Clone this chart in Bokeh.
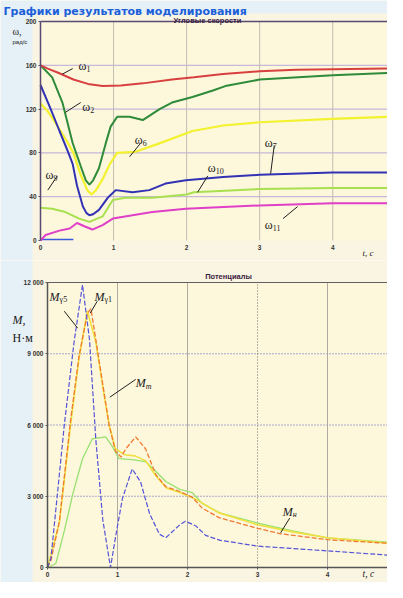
from bokeh.plotting import figure
from bokeh.models import Label, Range1d, FixedTicker
from bokeh.layouts import column
from bokeh.embed import file_html
from bokeh.resources import INLINE

# ---------------- data: angular velocities (t, s ; omega, rad/s) ----------------
t_w1 = [0, 0.1, 0.25, 0.45, 0.65, 0.85, 1.1, 1.4, 1.8, 2.1, 2.5, 3.0, 3.5, 4.0, 4.8]
w1 = [160, 157, 153, 147, 143, 141, 141.5, 143.5, 147, 149, 152, 154.5, 156, 156.5, 157]

t_w2 = [0, 0.16, 0.3, 0.44, 0.55, 0.62, 0.67, 0.72, 0.8, 0.89, 0.96, 1.05, 1.22, 1.4, 1.63, 1.8,
        2.08, 2.36, 2.53, 3.0, 4.0, 4.8]
w2 = [160, 149, 126, 89, 68, 55, 51, 55, 66, 88, 104, 113, 113, 110, 120, 126,
      131, 137, 141, 147, 151, 153]

t_w6 = [0, 0.1, 0.2, 0.35, 0.45, 0.55, 0.64, 0.7, 0.76, 0.85, 0.95, 1.05, 1.3, 1.6, 2.08, 2.5,
        3.0, 4.0, 4.8]
w6 = [125, 118, 108, 92, 80, 60, 46, 42, 46, 56, 70, 80, 81, 88, 100, 105,
      108, 111, 113]

t_w10 = [0, 0.14, 0.26, 0.37, 0.44, 0.5, 0.58, 0.63, 0.67, 0.72, 0.8, 0.92, 1.03, 1.26, 1.49,
         1.71, 1.99, 2.5, 3.0, 4.0, 4.8]
w10 = [142, 120, 100, 82, 70, 50, 31, 25, 23, 24, 28, 39, 46, 44, 46,
       52, 55, 58, 60, 62, 62]

t_w9 = [0, 0.16, 0.34, 0.53, 0.67, 0.85, 0.99, 1.16, 1.53, 2.0, 2.1, 3.0, 4.0, 4.8]
w9 = [30, 29, 26, 20, 17, 22, 37, 39, 39, 42, 44, 47, 48, 48]

t_w11 = [0, 0.07, 0.26, 0.4, 0.5, 0.6, 0.71, 0.85, 0.99, 1.26, 1.53, 1.99, 3.0, 4.0, 4.8]
w11 = [0, 5, 9, 11, 16, 13, 10, 14, 20, 23, 26, 29, 32, 34, 34]

t_w0 = [0, 0.45]
w0 = [1, 1]

w_ticks = [0, 40, 80, 120, 160, 200]
t_ticks = [0, 1, 2, 3, 4]

# ---------------- data: moments (t, s ; M, N*m) ----------------
t_my5 = [0, 0.05, 0.24, 0.38, 0.5, 0.6, 0.69, 0.79, 0.9, 0.97, 1.07, 1.21, 1.33, 1.46, 1.6, 1.69,
         1.89, 1.97, 2.12, 2.26, 2.46, 3.0, 3.5, 4.0, 4.97]
my5 = [0, 400, 6000, 9500, 11900, 9600, 5400, 2000, 0, 1250, 2900, 4150, 3600, 2250, 1400, 1250,
       1800, 1950, 1750, 1350, 1150, 900, 800, 700, 500]

t_mt = [0, 0.05, 0.17, 0.33, 0.45, 0.57, 0.62, 0.69, 0.79, 0.88, 0.97, 1.05, 1.12, 1.26, 1.4,
        1.55, 1.69, 1.89, 2.07, 2.21, 2.45, 3.0, 3.33, 4.0, 4.97]
mt = [0, 300, 1950, 6200, 8900, 10700, 10900, 9600, 7700, 6000, 4900, 4650, 5000, 5500, 5000,
      3900, 3400, 3200, 2950, 2500, 2100, 1650, 1420, 1170, 1000]

t_my = [0, 0.17, 0.33, 0.45, 0.57, 0.69, 0.79, 0.88, 0.97, 1.1, 1.25, 1.4, 1.55, 1.7, 1.9, 2.1,
        2.45, 3.0, 3.5, 4.0, 4.97]
my = [0, 1900, 6000, 8800, 10800, 9500, 7600, 6000, 5000, 4750, 4700, 4500, 3850, 3350, 3150, 2900,
      2300, 1800, 1500, 1250, 1000]

t_mn = [0, 0.12, 0.24, 0.36, 0.5, 0.64, 0.83, 0.93, 1.02, 1.21, 1.4, 1.55, 1.69, 1.89, 2.07, 2.21,
        2.46, 3.0, 3.5, 4.0, 4.97]
mn = [0, 170, 1540, 3080, 4580, 5420, 5500, 5080, 4580, 4540, 4460, 4040, 3620, 3290, 3150, 2700,
      2300, 1870, 1540, 1250, 1040]

m_ticks = [0, 3000, 6000, 9000, 12000]
m_tick_labels = {0: "0", 3000: "3 000", 6000: "6 000", 9000: "9 000", 12000: "12 000"}

# ---------------- styling / layout constants ----------------
SERIF = "Liberation Serif"
SANS = "Liberation Sans"
PLOT_BG = "#fdf7dc"
PAGE_BG = "#faf5e2"
SIDE_BG = "#e6f1f7"
W = 387


class Frame:
    """Maps canvas pixels (from top-left) to data units for a figure whose frame fills the canvas."""

    def __init__(self, height, left_px, top_px, bottom_px, t_end, v_top):
        self.xs = (W - left_px) / t_end
        self.ys = (bottom_px - top_px) / v_top
        self.x0 = -left_px / self.xs
        self.x1 = t_end
        self.y1 = v_top + top_px / self.ys
        self.y0 = -(height - bottom_px) / self.ys
        self.t_end = t_end
        self.v_top = v_top

    def cx(self, px):
        return self.x0 + px / self.xs

    def cy(self, py):
        return self.y1 - py / self.ys


def make_fig(fr, height):
    p = figure(width=W, height=height, x_range=Range1d(fr.x0, fr.x1), y_range=Range1d(fr.y0, fr.y1),
               output_backend="svg", toolbar_location=None,
               min_border_left=0, min_border_right=0, min_border_top=0, min_border_bottom=0)
    p.background_fill_color = PAGE_BG
    p.border_fill_color = PAGE_BG
    p.outline_line_color = None
    p.grid.visible = False
    p.quad(left=[fr.x0], right=[fr.cx(32)], bottom=[fr.y0], top=[fr.y1],
           fill_color=SIDE_BG, line_color=None, level="underlay")
    p.quad(left=[0], right=[fr.t_end], bottom=[0], top=[fr.v_top],
           fill_color=PLOT_BG, line_color=None, level="underlay")
    for ax in (p.xaxis, p.yaxis):
        ax.fixed_location = 0
        ax.major_label_text_font = SANS
        ax.major_label_text_font_size = "6.5px"
        ax.major_label_text_font_style = "bold"
        ax.major_label_text_color = "#333333"
        ax.minor_tick_line_color = None
        ax.major_tick_in = 0
        ax.major_tick_out = 2
        ax.major_label_standoff = 2
    p.xaxis.bounds = (0, fr.t_end)
    p.yaxis.bounds = (0, fr.v_top)
    return p


def add_label(p, x, y, text, size, font=SERIF, style="normal", color="#202020",
              align="left", dx=0, dy=0):
    p.add_layout(Label(x=x, y=y, text=text, x_offset=dx, y_offset=dy,
                       text_font=font, text_font_size=f"{size}px", text_font_style=style,
                       text_color=color, text_align=align, text_baseline="alphabetic"))


def sub_label(p, x, y, main, sub, size, sub_size, dx, style="normal", sub_style="normal"):
    add_label(p, x, y, main, size, style=style)
    add_label(p, x, y, sub, sub_size, style=sub_style, dx=dx, dy=-3)


# ======================= top chart =======================
H1 = 260
f1 = Frame(H1, left_px=40, top_px=21, bottom_px=240, t_end=4.75, v_top=200)
p1 = make_fig(f1, H1)
p1.quad(left=[f1.x0], right=[f1.x1], bottom=[f1.cy(13)], top=[f1.y1],
        fill_color=SIDE_BG, line_color=None, level="underlay")
p1.yaxis.ticker = FixedTicker(ticks=w_ticks)
p1.xaxis.ticker = FixedTicker(ticks=t_ticks)
p1.yaxis.axis_line_color = "#5a4a70"
p1.yaxis.major_tick_line_color = "#5a4a70"
p1.yaxis.axis_line_width = 1.5
p1.xaxis.axis_line_color = None
p1.xaxis.major_tick_line_color = None

hv = w_ticks[1:-1]
p1.segment(x0=[0] * len(hv), x1=[f1.t_end] * len(hv), y0=hv, y1=hv,
           line_color="#b9a9d9", line_width=1, level="underlay")
vv = t_ticks[1:]
p1.segment(x0=vv, x1=vv, y0=[0] * len(vv), y1=[f1.v_top] * len(vv),
           line_color="#c4bcb2", line_width=1, level="underlay")
p1.segment(x0=[0], x1=[f1.t_end], y0=[f1.v_top], y1=[f1.v_top], line_color="#5a4a70", line_width=1.5)

p1.line(t_w0, w0, line_color="#3a5ae0", line_width=1.5)
p1.line(t_w11, w11, line_color="#e040c8", line_width=2)
p1.line(t_w9, w9, line_color="#a8e050", line_width=2)
p1.line(t_w6, w6, line_color="#f2f22e", line_width=2.2)
p1.line(t_w10, w10, line_color="#3232b4", line_width=2)
p1.line(t_w2, w2, line_color="#2e8b3a", line_width=2)
p1.line(t_w1, w1, line_color="#d84040", line_width=2)

# pointer lines for curve labels
p1.segment(x0=[0.44, 0.55, 1.36, 3.2, 2.29, 3.32, 0.23],
           y0=[157, 126, 88, 87, 59, 20, 59],
           x1=[0.30, 0.34, 1.22, 3.15, 2.15, 3.52, 0.10],
           y1=[152, 117, 76.5, 61, 44, 31, 46],
           line_color="#202020", line_width=1)

sub_label(p1, 0.52, 159, "ω", "1", 12, 8, 8)
sub_label(p1, 0.57, 122, "ω", "2", 12, 8, 8)
sub_label(p1, 1.29, 92, "ω", "6", 12, 8, 8)
sub_label(p1, 3.07, 89, "ω", "7", 12, 8, 8)
sub_label(p1, 2.29, 66, "ω", "10", 12, 8, 8)
sub_label(p1, 3.07, 14, "ω", "11", 12, 8, 8)
sub_label(p1, 0.07, 60, "ω", "9", 12, 8, 8)

add_label(p1, f1.cx(3), f1.cy(11), "Графики результатов моделирования", 11,
          font="DejaVu Sans", style="bold", color="#1c5fd8")
add_label(p1, f1.cx(207), f1.cy(19.5), "Угловые скорости", 7.5, font=SANS, style="bold",
          color="#3a2040", align="center")
add_label(p1, f1.cx(12), f1.cy(31), "ω,", 10)
add_label(p1, f1.cx(12), f1.cy(41), "рад/с", 6, font=SANS)
add_label(p1, f1.cx(362), f1.cy(252), "t, c", 9, style="italic")

# ======================= bottom chart =======================
H2 = 322
f2 = Frame(H2, left_px=47, top_px=22, bottom_px=307, t_end=4.857, v_top=12000)
p2 = make_fig(f2, H2)
p2.yaxis.ticker = FixedTicker(ticks=m_ticks)
p2.yaxis.major_label_overrides = m_tick_labels
p2.xaxis.ticker = FixedTicker(ticks=t_ticks)
for ax in (p2.xaxis, p2.yaxis):
    ax.axis_line_color = "#555555"
    ax.major_tick_line_color = "#555555"
    ax.axis_line_width = 1.5

hm = m_ticks[1:-1]
p2.segment(x0=[0] * len(hm), x1=[f2.t_end] * len(hm), y0=hm, y1=hm,
           line_color="#5a5ab8", line_width=1, line_dash="1 2", level="underlay")
solid_v = [v for v in t_ticks[1:] if v != 3]
p2.segment(x0=solid_v, x1=solid_v, y0=[0] * len(solid_v), y1=[f2.v_top] * len(solid_v),
           line_color="#b0aaa4", line_width=1, level="underlay")
p2.segment(x0=[3], x1=[3], y0=[0], y1=[f2.v_top],
           line_color="#707070", line_width=1, line_dash="1 2", level="underlay")
p2.segment(x0=[0], x1=[f2.t_end], y0=[f2.v_top], y1=[f2.v_top], line_color="#606060", line_width=1.2)

p2.line(t_mn, mn, line_color="#98e070", line_width=1.3)
p2.line(t_my, my, line_color="#f0e040", line_width=1.6)
p2.line(t_mt, mt, line_color="#f07a30", line_width=1.3, line_dash="5 2")
p2.line(t_my5, my5, line_color="#5454d8", line_width=1.2, line_dash="5 2")

p2.segment(x0=[0.24, 0.71, 1.26, 3.46],
           y0=[10790, 11210, 7920, 2080],
           x1=[0.43, 0.61, 0.89, 3.33],
           y1=[10080, 10710, 7170, 1460],
           line_color="#202020", line_width=1)

sub_label(p2, 0.03, 11400, "M", "γ5", 12, 8, 10, style="italic")
sub_label(p2, 0.67, 11400, "M", "γ1", 12, 8, 10, style="italic")
sub_label(p2, 1.26, 7750, "M", "т", 12, 8, 10, style="italic", sub_style="italic")
sub_label(p2, 3.36, 2350, "M", "н", 12, 8, 10, style="italic", sub_style="italic")

add_label(p2, f2.cx(228), f2.cy(16), "Потенциалы", 7.5, font=SANS, style="bold",
          color="#3a2040", align="center")
add_label(p2, f2.cx(12), f2.cy(59), "M,", 12, style="italic")
add_label(p2, f2.cx(12), f2.cy(77), "Н·м", 12)
add_label(p2, f2.cx(362), f2.cy(313), "t, c", 9.5, style="italic")

layout = column(p1, p2, spacing=0)
open("out.html", "w").write(file_html(layout, INLINE))
